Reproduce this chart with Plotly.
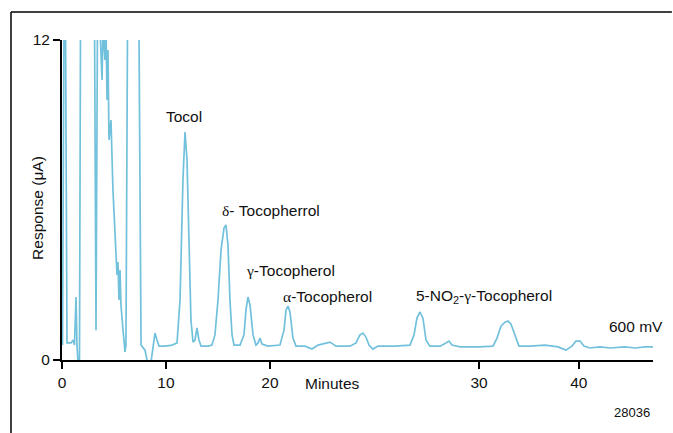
import plotly.graph_objects as go

# retention time (axis units) and response (µA)
minutes = [0.05, 0.19, 0.34, 0.48, 0.87, 1.06, 1.20, 1.35, 1.44, 1.54, 1.68, 1.78,
           3.13, 3.27, 3.41, 3.65, 3.85, 3.94, 4.13, 4.23, 4.33, 4.42, 4.52, 4.71,
           4.90, 5.19, 5.29, 5.38, 5.48, 5.58, 5.67, 5.87, 6.06, 6.15, 6.30, 7.40,
           7.60, 7.98, 8.27, 8.56, 8.75, 8.94, 9.13, 9.33, 9.90, 10.58, 11.06, 11.35,
           11.63, 11.83, 12.02, 12.21, 12.40, 12.60, 12.79, 12.98, 13.17, 13.37, 14.04,
           14.42, 14.71, 15.00, 15.29, 15.58, 15.77, 15.96, 16.15, 16.35, 16.54, 17.12,
           17.50, 17.69, 17.88, 18.08, 18.37, 18.65, 18.85, 19.04, 19.23, 19.81, 20.96,
           21.35, 21.54, 21.73, 21.92, 22.21, 22.50, 23.37, 24.04, 24.62, 25.29, 25.77,
           26.35, 27.69, 28.27, 28.65, 28.94, 29.23, 29.52, 29.90, 30.38, 32.02, 33.46,
           33.85, 34.13, 34.42, 34.71, 35.00, 35.38, 36.35, 36.92, 37.21, 37.50, 38.27,
           40.19, 41.44, 41.83, 42.21, 42.60, 42.88, 43.17, 43.56, 43.94, 45.00, 46.44,
           47.69, 48.46, 49.04, 49.42, 49.81, 50.19, 50.77, 51.73, 52.69, 54.13, 55.10,
           56.06, 56.83]
response = [0.56, 12.5, 12.5, 0.64, 0.64, 0.75, 0.56, 2.36, 0.56, -0.08, -0.08, 12.5,
            12.5, 1.12, 12.5, 12.5, 10.5, 12.5, 11.25, 12.5, 9.75, 11.62, 8.25, 9.0,
            6.37, 3.94, 3.19, 3.67, 2.25, 3.37, 2.06, 1.12, 0.30, 0.56, 12.5, 12.5,
            0.56, 0.37, -0.19, -0.08, 0.56, 1.01, 0.75, 0.52, 0.52, 0.56, 0.64, 2.25,
            6.75, 8.55, 7.5, 4.12, 1.5, 0.67, 0.75, 1.2, 0.75, 0.52, 0.52,
            0.56, 0.94, 2.25, 4.12, 4.95, 5.06, 4.31, 2.25, 0.94, 0.56, 0.56,
            0.94, 1.87, 2.36, 2.06, 0.94, 0.56, 0.64, 0.82, 0.60, 0.52, 0.56,
            1.12, 1.87, 2.02, 1.8, 0.82, 0.52, 0.52, 0.41, 0.56, 0.64, 0.67,
            0.52, 0.52, 0.64, 0.94, 1.01, 0.86, 0.56, 0.41, 0.52, 0.52, 0.56,
            0.94, 1.57, 1.8, 1.57, 0.75, 0.52, 0.52, 0.64, 0.71, 0.56, 0.49,
            0.49, 0.52, 0.82, 1.27, 1.42, 1.46, 1.35, 0.94, 0.52, 0.52, 0.56,
            0.49, 0.37, 0.52, 0.71, 0.71, 0.52, 0.45, 0.49, 0.45, 0.49, 0.45,
            0.49, 0.49]

x_tick_vals = [0, 10, 20, 40.1, 49.7]
x_tick_text = ["0", "10", "20", "30", "40"]
y_tick_vals = [0, 12]
y_tick_text = ["0", "12"]

GREEK = "<span style=\"font-family:'Liberation Serif'\">%s</span>"
peak_labels = ["Tocol",
               GREEK % "δ" + "- Tocopherrol",
               GREEK % "γ" + "-Tocopherol",
               GREEK % "α" + "-Tocopherol",
               "5-NO<sub>2</sub>-" + GREEK % "γ" + "-Tocopherol",
               "600 mV"]
label_x = [9.81, 15.19, 17.5, 21.06, 33.85, 52.4]
label_y = [9.15, 5.59, 3.37, 2.40, 2.40, 1.24]

FONT = "Liberation Sans, Arial, sans-serif"
FS = 15.5

fig = go.Figure()
fig.add_trace(go.Scatter(x=minutes, y=response, mode="lines",
                         line=dict(color="#72c1dc", width=1.7),
                         hoverinfo="skip", showlegend=False))

for t, x, y in zip(peak_labels, label_x, label_y):
    fig.add_annotation(x=x, y=y, xref="x", yref="y", text=t, showarrow=False,
                       xanchor="left", yanchor="middle",
                       font=dict(family=FONT, size=FS, color="#111"))

fig.add_annotation(x=-0.0425, y=0.475, xref="paper", yref="paper",
                   text="Response (μA)", textangle=-90, showarrow=False,
                   xanchor="center", yanchor="middle",
                   font=dict(family=FONT, size=FS, color="#111"))
fig.add_annotation(x=0.4585, y=-0.072, xref="paper", yref="paper",
                   text="Minutes", showarrow=False, xanchor="center", yanchor="middle",
                   font=dict(family=FONT, size=FS, color="#111"))
fig.add_annotation(x=0.9645, y=-0.1625, xref="paper", yref="paper",
                   text="28036", showarrow=False, xanchor="center", yanchor="middle",
                   font=dict(family=FONT, size=13, color="#111"))

# outer frame (top and left edges)
fig.add_shape(type="line", xref="paper", yref="paper", x0=-0.0863, x1=1.032,
              y0=1.0875, y1=1.0875, line=dict(color="black", width=1.5))
fig.add_shape(type="line", xref="paper", yref="paper", x0=-0.0863, x1=-0.0863,
              y0=1.0875, y1=-0.24, line=dict(color="black", width=1.5))

fig.update_layout(
    width=673, height=433,
    margin=dict(l=62, r=20, t=40, b=73),
    paper_bgcolor="white", plot_bgcolor="white",
    font=dict(family=FONT, size=FS, color="#111"),
    xaxis=dict(range=[0, 56.83], tickvals=x_tick_vals, ticktext=x_tick_text,
               showgrid=False, zeroline=False, showline=True, linecolor="black",
               linewidth=2, ticks="outside", ticklen=7, tickwidth=2,
               tickcolor="black", tickfont=dict(size=FS)),
    yaxis=dict(range=[0, 12], tickvals=y_tick_vals, ticktext=y_tick_text,
               showgrid=False, zeroline=False, showline=True, linecolor="black",
               linewidth=2, ticks="outside", ticklen=7, tickwidth=2,
               tickcolor="black", tickfont=dict(size=FS)),
)

fig.write_html("out.html", config={"displayModeBar": False},
               post_script="document.body.style.margin='0';"
                           "document.body.style.overflow='hidden';")
